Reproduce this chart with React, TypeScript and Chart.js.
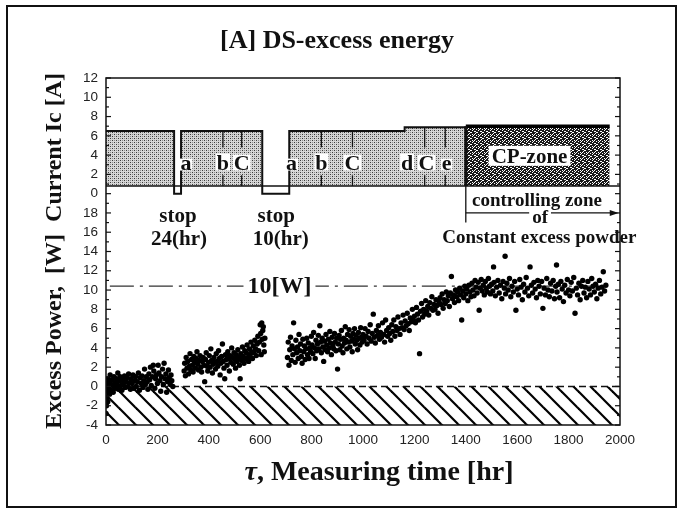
import React, { useEffect, useRef } from 'react';
import { Chart, registerables } from 'chart.js';

Chart.register(...registerables);

// ---------------- data ----------------
const hourMin = 0;
const hourMax = 2000;
const hourStep = 200;
const powerMin = -4;
const powerTop = 18;
const currentMax = 12;
// the current panel sits on top of the power panel on one shared vertical axis
const CURRENT_OFFSET = 20;

// electrolysis current Ic [A] (step levels starting at these hours)
const currentStepHours = [0, 265, 292, 608, 713, 1162, 1400];
const currentStepLevels = [6.5, 0, 6.5, 0, 6.5, 6.9, 0.8];
const currentBaseLevel = 0.8;
const cpZoneHours = [1400, 1960];
const cpZoneLevel = 7.0;

// condition change events
const eventHours = [311, 455, 528, 722, 838, 959, 1172, 1247, 1325];
const eventLetters = ['a', 'b', 'C', 'a', 'b', 'C', 'd', 'C', 'e'];
const eventMarkHours = [455, 528, 838, 959, 1240, 1320];

// reference line 10 [W]
const referencePower = 10.4;
const referenceHours = [15, 1930];
const zeroHours = [0, 2000];

// excess power [W] vs measuring time [hr]
const run1: [number, number][] = [
  [0, -2.8], [2, -2.0], [3, -1.2], [5, -0.5], [4, 0.3], [7, -1.6], [8, 0.8], [10, -0.2], [12, 0.5], [14, -0.8],
  [16, 1.2], [18, 0.2], [20, -0.4], [23, 0.7], [26, 0.1], [28, -0.6], [31, 1.0], [34, 0.4], [36, -0.2], [40, 0.8],
  [43, 0.2], [46, 1.4], [48, -0.3], [52, 0.6], [55, 1.0], [58, 0.1], [62, -0.4], [65, 0.7], [68, 0.3], [72, 1.1],
  [75, -0.1], [78, 0.5], [82, 0.9], [85, 0.0], [88, 1.3], [92, 0.4], [95, -0.3], [98, 0.8], [102, 0.3], [105, 1.2],
  [108, -0.2], [112, 0.6], [115, 1.0], [118, 0.0], [122, 0.5], [126, 1.4], [130, -0.4], [133, 0.9], [137, 0.3], [140, 1.1],
  [144, -0.1], [147, 0.6], [150, 1.8], [153, 0.2], [157, 1.0], [160, 0.5], [163, -0.3], [167, 1.3], [170, 0.7], [173, 2.0],
  [176, 0.1], [180, 1.0], [184, 2.2], [186, 1.6], [190, -0.2], [193, 0.8], [196, 1.2], [200, 0.3], [203, 2.2], [206, 1.4],
  [210, 0.6], [213, -0.5], [216, 1.0], [220, 1.8], [223, 0.2], [226, 2.4], [230, 0.8], [233, 1.3], [236, -0.6], [240, 0.5],
  [243, 1.7], [246, 0.9], [250, 0.2], [253, 1.2], [256, 0.6], [260, 0.0],
];

const run2: [number, number][] = [
  [304, 1.6], [306, 2.4], [309, 1.1], [312, 3.0], [315, 1.9], [318, 2.6], [321, 1.3], [324, 2.1], [327, 3.4], [330, 1.7],
  [333, 2.8], [336, 2.2], [339, 1.5], [342, 3.1], [345, 2.5], [348, 1.9], [351, 2.9], [354, 3.6], [357, 2.3], [360, 1.7],
  [363, 2.7], [366, 3.2], [369, 2.0], [372, 1.5], [375, 2.6], [378, 3.0], [381, 2.2], [384, 0.5], [387, 2.8], [390, 3.5],
  [393, 2.1], [396, 1.6], [399, 2.5], [402, 3.2], [405, 2.0], [408, 3.9], [411, 2.7], [414, 1.4], [417, 2.3], [420, 3.0],
  [423, 2.5], [426, 1.8], [429, 3.4], [432, 2.6], [435, 2.1], [438, 3.7], [441, 2.9], [444, 1.2], [447, 2.4], [450, 3.1],
  [453, 4.4], [456, 2.6], [459, 1.9], [462, 0.8], [465, 3.3], [468, 2.8], [471, 2.2], [474, 3.6], [477, 2.9], [480, 1.6],
  [483, 3.2], [486, 2.5], [489, 4.0], [492, 3.0], [495, 2.3], [498, 3.5], [501, 2.8], [504, 1.9], [507, 3.3], [510, 2.6],
  [513, 3.8], [516, 3.0], [519, 2.2], [522, 0.8], [525, 3.4], [528, 2.7], [531, 4.1], [534, 3.1], [537, 2.4], [540, 3.7],
  [543, 2.9], [546, 3.5], [549, 4.3], [552, 3.0], [555, 2.6], [558, 3.9], [561, 3.3], [564, 4.6], [567, 3.6], [570, 2.9],
  [573, 4.2], [576, 3.5], [579, 4.8], [582, 3.9], [585, 3.2], [588, 4.4], [591, 5.2], [594, 3.7], [597, 4.6], [600, 6.4],
  [602, 5.5], [604, 3.3], [606, 6.6], [608, 4.9], [610, 5.8], [612, 6.2], [614, 4.3], [616, 3.6], [618, 5.0],
];

const run3: [number, number][] = [
  [706, 3.0], [709, 4.6], [712, 2.2], [715, 3.8], [718, 5.1], [721, 2.7], [724, 4.2], [727, 3.3], [730, 6.6], [733, 3.9],
  [736, 2.5], [739, 4.8], [742, 3.5], [745, 4.1], [748, 2.9], [751, 5.4], [754, 3.7], [757, 4.4], [760, 3.1], [763, 2.4],
  [766, 4.9], [769, 3.6], [772, 4.2], [775, 2.8], [778, 3.9], [781, 5.0], [784, 3.3], [787, 4.5], [790, 2.9], [793, 4.0],
  [796, 3.6], [799, 5.2], [802, 4.3], [805, 3.4], [808, 5.6], [811, 4.0], [814, 2.9], [817, 4.8], [820, 3.7], [823, 4.4],
  [826, 5.3], [829, 3.9], [832, 6.3], [835, 4.6], [838, 3.5], [841, 5.0], [844, 4.1], [847, 2.6], [850, 4.7], [853, 3.8],
  [856, 5.4], [859, 4.3], [862, 3.6], [865, 4.9], [868, 4.0], [871, 5.7], [874, 4.5], [877, 3.3], [880, 5.1], [883, 4.2],
  [886, 3.9], [889, 5.5], [892, 4.6], [895, 3.7], [898, 5.0], [901, 1.8], [904, 4.4], [907, 5.3], [910, 3.8], [913, 4.9],
  [916, 5.8], [919, 4.2], [922, 3.5], [925, 5.0], [928, 4.5], [931, 6.2], [934, 4.8], [937, 3.9], [940, 5.4], [943, 4.6],
  [946, 5.9], [949, 4.1], [952, 5.2], [955, 4.7], [958, 3.6], [961, 5.5], [964, 4.9], [967, 6.0], [970, 4.4], [973, 5.3],
  [976, 4.8], [979, 3.8], [982, 5.6], [985, 5.0], [988, 4.3], [991, 6.1], [994, 5.1], [997, 4.6], [1000, 5.4], [1004, 4.8],
  [1008, 6.0], [1012, 5.2], [1016, 4.4], [1020, 5.7], [1024, 5.0], [1028, 6.4], [1032, 4.7], [1036, 5.5], [1040, 7.5], [1044, 5.1],
  [1048, 4.5], [1052, 5.8], [1056, 5.3], [1060, 6.3], [1064, 4.9], [1068, 5.6], [1072, 5.1], [1076, 6.6], [1080, 5.4], [1084, 4.6],
  [1088, 6.9], [1092, 5.8], [1096, 5.2], [1100, 6.1], [1104, 5.5], [1108, 4.8], [1112, 6.4], [1116, 5.7], [1120, 6.9], [1124, 5.2],
  [1128, 6.2], [1132, 5.8], [1136, 7.2], [1140, 6.0], [1144, 5.4], [1148, 6.6], [1152, 6.1], [1156, 7.4], [1160, 5.9], [1164, 6.8],
  [1168, 6.3], [1172, 7.6], [1176, 6.5], [1180, 5.8], [1184, 7.1], [1188, 6.7], [1192, 8.0], [1196, 6.9], [1200, 7.3], [1204, 6.6],
  [1208, 8.2], [1212, 7.5], [1216, 6.9], [1220, 3.4], [1224, 7.8], [1228, 8.6], [1232, 7.2], [1236, 8.0], [1240, 7.5], [1244, 8.9],
  [1248, 7.8], [1252, 8.3], [1256, 7.4], [1260, 8.7], [1264, 8.1], [1268, 9.3], [1272, 7.9], [1276, 8.5], [1280, 8.0], [1284, 9.0],
  [1288, 8.4], [1292, 7.6], [1296, 8.8], [1300, 9.2], [1304, 8.5], [1308, 9.6], [1312, 8.1], [1316, 9.0], [1320, 8.6], [1324, 9.8],
  [1328, 8.9], [1332, 9.4], [1336, 8.3], [1340, 9.7], [1344, 11.4], [1348, 9.1], [1352, 9.5], [1356, 8.7], [1360, 10.0], [1364, 9.3],
  [1368, 9.8], [1372, 8.9], [1376, 10.2], [1380, 9.5], [1384, 6.9], [1388, 9.9], [1392, 9.2], [1396, 10.4], [1400, 9.6], [1404, 10.1],
  [1408, 8.9], [1412, 10.5], [1416, 9.8], [1420, 9.3], [1424, 10.7], [1428, 10.0], [1432, 9.4], [1436, 11.0], [1440, 10.3], [1444, 9.7],
  [1448, 10.8], [1452, 7.9], [1456, 10.2], [1460, 11.1], [1464, 9.9], [1468, 10.5], [1472, 9.5], [1476, 10.9], [1480, 10.2], [1484, 9.8],
  [1488, 11.2], [1492, 10.4], [1496, 9.6], [1500, 10.6], [1505, 9.9], [1508, 12.4], [1510, 10.8], [1515, 9.4], [1520, 10.3], [1525, 11.0],
  [1530, 9.7], [1535, 10.5], [1540, 9.1], [1545, 10.9], [1550, 10.2], [1553, 13.5], [1555, 9.6], [1560, 10.7], [1565, 10.0], [1570, 11.2],
  [1575, 9.3], [1580, 10.4], [1585, 9.8], [1590, 10.9], [1595, 7.9], [1600, 10.1], [1605, 9.5], [1610, 11.1], [1615, 10.3], [1620, 9.0],
  [1625, 10.6], [1630, 9.8], [1635, 11.3], [1640, 10.2], [1645, 9.4], [1650, 12.4], [1655, 10.5], [1660, 9.7], [1665, 10.8], [1670, 10.1],
  [1675, 9.2], [1680, 11.0], [1685, 10.4], [1690, 9.6], [1695, 10.9], [1700, 8.1], [1705, 10.2], [1710, 9.5], [1715, 11.2], [1720, 10.0],
  [1725, 9.3], [1730, 10.7], [1735, 9.9], [1740, 11.0], [1745, 9.1], [1750, 10.4], [1753, 12.6], [1755, 9.8], [1760, 10.6], [1765, 9.2],
  [1770, 10.9], [1775, 10.1], [1780, 8.8], [1785, 10.5], [1790, 9.7], [1795, 11.1], [1800, 10.0], [1805, 9.4], [1810, 10.8], [1815, 9.9],
  [1820, 11.3], [1825, 7.6], [1830, 10.2], [1835, 9.5], [1840, 10.7], [1845, 9.0], [1850, 10.4], [1855, 11.0], [1860, 9.7], [1865, 10.3],
  [1870, 9.2], [1875, 10.9], [1880, 10.1], [1885, 9.5], [1890, 11.2], [1895, 10.4], [1900, 9.8], [1905, 10.6], [1910, 9.1], [1915, 10.2],
  [1920, 11.0], [1925, 9.6], [1930, 10.3], [1935, 11.9], [1940, 9.9], [1945, 10.5],
];

// ---------------- styling ----------------
const SERIF = '"Liberation Serif", "Times New Roman", serif';
const SANS = '"Liberation Sans", Arial, sans-serif';
const INK = '#111';

const W = 682;
const H = 514;

function makeTile(size: number, paint: (g: CanvasRenderingContext2D) => void) {
  const c = document.createElement('canvas');
  c.width = size;
  c.height = size;
  const g = c.getContext('2d') as CanvasRenderingContext2D;
  paint(g);
  return c;
}

const overlayPlugin = {
  id: 'overlay',
  afterDatasetsDraw(chart: any) {
    const { ctx, chartArea: ca } = chart;
    const xs = chart.scales.x;
    const ys = chart.scales.y;
    const px = (h: number) => xs.getPixelForValue(h);
    const pyP = (p: number) => ys.getPixelForValue(p);
    const pyC = (c: number) => ys.getPixelForValue(c + CURRENT_OFFSET);
    const seg = (x1: number, y1: number, x2: number, y2: number, w = 1.2) => {
      ctx.lineWidth = w;
      ctx.beginPath();
      ctx.moveTo(x1, y1);
      ctx.lineTo(x2, y2);
      ctx.stroke();
    };
    const text = (s: string, x: number, y: number, font: string, bgPad = -1) => {
      ctx.font = font;
      ctx.textAlign = 'center';
      ctx.textBaseline = 'alphabetic';
      if (bgPad >= 0) {
        const m = ctx.measureText(s);
        const w = m.width;
        ctx.fillStyle = '#fff';
        ctx.fillRect(x - w / 2 - bgPad, y - m.actualBoundingBoxAscent - bgPad, w + 2 * bgPad, m.actualBoundingBoxAscent + m.actualBoundingBoxDescent + 2 * bgPad);
      }
      ctx.fillStyle = INK;
      ctx.fillText(s, x, y);
    };

    ctx.save();
    ctx.strokeStyle = INK;
    ctx.setLineDash([]);

    // frame
    ctx.lineWidth = 1.5;
    ctx.strokeRect(ca.left, ca.top, ca.right - ca.left, ca.bottom - ca.top);

    // inward tick marks on both vertical sides
    ys.ticks.forEach((t: any) => {
      const yy = ys.getPixelForValue(t.value);
      const len = t.value % 2 === 0 ? 5 : 3;
      seg(ca.left, yy, ca.left + len, yy, 1.2);
      seg(ca.right, yy, ca.right - len, yy, 1.2);
    });

    // event marks inside the current blocks
    const levelAt = (h: number) => {
      let lv = currentStepLevels[0];
      currentStepHours.forEach((s, i) => { if (h >= s) lv = currentStepLevels[i]; });
      return lv;
    };
    eventMarkHours.forEach((h) => {
      seg(px(h), pyC(levelAt(h)), px(h), pyC(4.8), 1.3);
      seg(px(h), pyC(1.9), px(h), pyC(currentBaseLevel), 1.3);
    });
    eventHours.forEach((h, i) => {
      text(eventLetters[i], px(h), pyC(2.5), `bold 22px ${SERIF}`, 1);
    });

    // thick edge of the CP-zone
    seg(px(cpZoneHours[0]), pyC(cpZoneLevel), px(cpZoneHours[0]), pyC(currentBaseLevel), 3);
    text('CP-zone', px(1648), pyC(3.2), `bold 21px ${SERIF}`, 3);

    // stop notes
    text('stop', px(280), pyP(17.1), `bold 21px ${SERIF}`);
    text('24(hr)', px(284), pyP(14.7), `bold 21px ${SERIF}`);
    text('stop', px(662), pyP(17.1), `bold 21px ${SERIF}`);
    text('10(hr)', px(680), pyP(14.7), `bold 21px ${SERIF}`);

    // controlling zone
    seg(px(cpZoneHours[0]), pyC(currentBaseLevel), px(cpZoneHours[0]), pyP(17.0), 1.3);
    const ay = pyP(18.0);
    seg(px(cpZoneHours[0]), ay, px(1980), ay, 1.3);
    ctx.fillStyle = INK;
    ctx.beginPath();
    ctx.moveTo(px(1995), ay);
    ctx.lineTo(px(1960), ay - 3);
    ctx.lineTo(px(1960), ay + 3);
    ctx.closePath();
    ctx.fill();
    text('controlling zone', px(1677), pyP(18.7), `bold 19px ${SERIF}`);
    text('of', px(1689), pyP(17.0), `bold 19px ${SERIF}`, 3);
    text('Constant excess powder', px(1686), pyP(14.9), `bold 19px ${SERIF}`);

    // 10 [W] label
    text('10[W]', px(675), pyP(9.7), `bold 24px ${SERIF}`, 4);

    // titles
    ctx.fillStyle = INK;
    ctx.font = `bold 26px ${SERIF}`;
    ctx.textAlign = 'center';
    ctx.textBaseline = 'alphabetic';
    ctx.fillText('[A] DS-excess energy', 337, 48);

    ctx.save();
    ctx.translate(61, 251);
    ctx.rotate(-Math.PI / 2);
    ctx.font = `bold 24px ${SERIF}`;
    ctx.fillText('Excess Power,  [W]  Current Ic [A]', 0, 0);
    ctx.restore();

    ctx.font = `italic bold 28px ${SERIF}`;
    const wTau = ctx.measureText('τ').width;
    ctx.font = `bold 28px ${SERIF}`;
    const rest = ', Measuring time [hr]';
    const wRest = ctx.measureText(rest).width;
    const x0 = 379 - (wTau + wRest) / 2;
    ctx.textAlign = 'left';
    ctx.font = `italic bold 28px ${SERIF}`;
    ctx.fillText('τ', x0, 480);
    ctx.font = `bold 28px ${SERIF}`;
    ctx.fillText(rest, x0 + wTau, 480);

    ctx.restore();
  },
};

export default function App() {
  const canvasRef = useRef<HTMLCanvasElement | null>(null);

  useEffect(() => {
    const canvas = canvasRef.current;
    if (!canvas) return;
    const ctx = canvas.getContext('2d') as CanvasRenderingContext2D;

    const stipple = ctx.createPattern(makeTile(4, (g) => {
      g.fillStyle = '#d6d6d6';
      g.fillRect(0, 0, 4, 4);
      g.fillStyle = '#3a3a3a';
      g.fillRect(0, 0, 1, 1);
      g.fillRect(2, 2, 1, 1);
      g.fillStyle = '#8e8e8e';
      g.fillRect(2, 0, 1, 1);
      g.fillRect(0, 2, 1, 1);
    }), 'repeat');

    const cpMap = [
      '##..##',
      '#.####',
      '.###.#',
      '##.##.',
      '####.#',
      '..####',
    ];
    const cpPattern = ctx.createPattern(makeTile(6, (g) => {
      g.fillStyle = '#fff';
      g.fillRect(0, 0, 6, 6);
      g.fillStyle = '#1a1a1a';
      cpMap.forEach((row, r) => {
        row.split('').forEach((ch, c) => { if (ch === '#') g.fillRect(c, r, 1, 1); });
      });
    }), 'repeat');

    const hatch = ctx.createPattern(makeTile(17, (g) => {
      g.fillStyle = '#fff';
      g.fillRect(0, 0, 17, 17);
      g.strokeStyle = '#000';
      g.lineWidth = 2.2;
      [-17, 0, 17].forEach((k) => {
        g.beginPath();
        g.moveTo(k - 2, -2);
        g.lineTo(k + 19, 19);
        g.stroke();
      });
    }), 'repeat');

    const toXY = (arr: [number, number][]) => arr.map(([x, y]) => ({ x, y }));

    const currentData = currentStepHours.map((h, i) => ({ x: h, y: currentStepLevels[i] + CURRENT_OFFSET }));
    const base = currentBaseLevel + CURRENT_OFFSET;

    const scatterStyle = {
      type: 'scatter' as const,
      pointRadius: 2.7,
      pointBackgroundColor: '#000',
      pointBorderWidth: 0,
      showLine: false,
      order: 0,
    };

    const chart = new Chart(canvas, {
      type: 'line',
      data: {
        datasets: [
          { ...scatterStyle, label: 'run1', data: toXY(run1) },
          { ...scatterStyle, label: 'run2', data: toXY(run2) },
          { ...scatterStyle, label: 'run3', data: toXY(run3) },
          {
            type: 'line', label: 'current', data: currentData, stepped: 'before',
            borderColor: INK, borderWidth: 2, pointRadius: 0,
            fill: { target: { value: base }, above: stipple as any, below: 'rgba(0,0,0,0)' },
            order: 3,
          },
          {
            type: 'line', label: 'cp', data: cpZoneHours.map((h) => ({ x: h, y: cpZoneLevel + CURRENT_OFFSET })),
            borderColor: '#000', borderWidth: 3.5, pointRadius: 0,
            fill: { target: { value: base }, above: cpPattern as any, below: 'rgba(0,0,0,0)' },
            order: 3,
          },
          {
            type: 'line', label: 'base', data: zeroHours.map((h) => ({ x: h, y: base })),
            borderColor: INK, borderWidth: 1.5, pointRadius: 0, fill: false, order: 2,
          },
          {
            type: 'line', label: 'zero', data: zeroHours.map((h) => ({ x: h, y: 0 })),
            borderColor: INK, borderWidth: 1.5, borderDash: [7, 4], pointRadius: 0,
            fill: { target: { value: powerMin }, above: hatch as any, below: hatch as any },
            order: 4,
          },
          {
            type: 'line', label: 'ref', data: referenceHours.map((h) => ({ x: h, y: referencePower })),
            borderColor: '#333', borderWidth: 1.3, borderDash: [24, 6, 3, 6], pointRadius: 0, fill: false, order: 2,
          },
        ] as any,
      },
      options: {
        animation: false,
        responsive: false,
        devicePixelRatio: 1,
        events: [],
        layout: { padding: { left: 10, right: 62, top: 78, bottom: 59 } },
        plugins: { legend: { display: false }, tooltip: { enabled: false }, title: { display: false } },
        scales: {
          x: {
            type: 'linear', min: hourMin, max: hourMax,
            ticks: {
              stepSize: hourStep, autoSkip: false, maxRotation: 0, padding: 7, color: '#222',
              font: { family: SANS, size: 13.5 },
              callback: (v: any) => String(v),
            },
            grid: { display: false, drawTicks: false },
            border: { display: false },
            afterFit: (s: any) => { s.height = 30; },
          },
          y: {
            type: 'linear', min: powerMin, max: CURRENT_OFFSET + currentMax,
            ticks: {
              stepSize: 1, autoSkip: false, padding: 8, color: '#222',
              font: { family: SANS, size: 13.5 },
              callback: (v: any) => {
                const n = Math.round(Number(v));
                if (n >= CURRENT_OFFSET) return (n - CURRENT_OFFSET) % 2 === 0 ? String(n - CURRENT_OFFSET) : '';
                if (n <= powerTop) return n % 2 === 0 ? String(n) : '';
                return '';
              },
            },
            grid: { display: false, drawTicks: false },
            border: { display: false },
            afterFit: (s: any) => { s.width = 96; },
          },
        },
      } as any,
      plugins: [overlayPlugin],
    });

    return () => chart.destroy();
  }, []);

  return (
    <div style={{ position: 'fixed', left: 0, top: 0, width: W, height: H, background: '#fff' }}>
      <canvas ref={canvasRef} width={W} height={H} style={{ position: 'absolute', left: 0, top: 0, width: W, height: H }} />
      <div style={{ position: 'absolute', left: 6, top: 5, width: 671, height: 503, border: '2px solid #111', boxSizing: 'border-box', pointerEvents: 'none' }} />
    </div>
  );
}
